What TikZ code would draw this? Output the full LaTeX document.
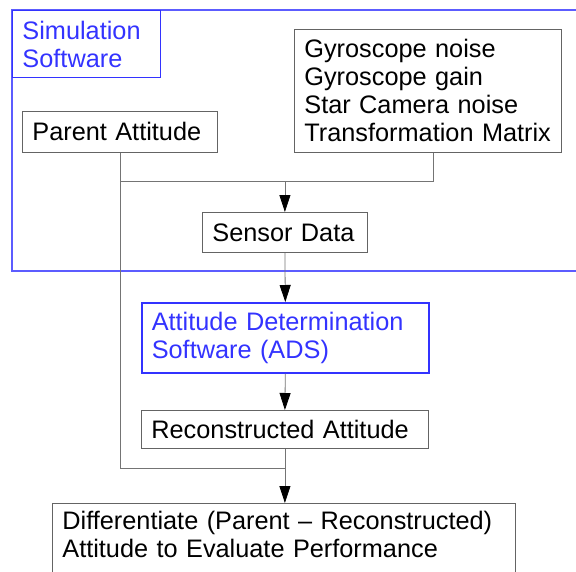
\documentclass[tikz,border=0pt]{standalone}
\usepackage{fontspec}
\setmainfont{Liberation Sans}
\usetikzlibrary{arrows.meta}
\definecolor{simblue}{RGB}{51,51,255}
\definecolor{framegray}{RGB}{100,100,100}
\tikzset{
  blk/.style={draw=framegray, line width=0.8pt, anchor=north west, align=left,
    inner xsep=10pt, inner ysep=0pt, font=\fontsize{25.3}{28}\selectfont},
  bluebox/.style={blk, draw=simblue, text=simblue},
  conn/.style={draw=framegray!90, line width=0.8pt},
  arr/.style={conn, -{Triangle[width=11pt,length=17pt,color=black]}}
}

\begin{document}
\begin{tikzpicture}[x=1pt, y=-1pt]
		%%%%% START %%%%%
		\useasboundingbox (0, 0) rectangle (576, 571);
		
		% simulation software frame
		\begin{scope}
		\clip (0, 0) rectangle (576, 571);
		\draw[draw=simblue!80, line width=1.2pt] (12, 10) rectangle (600, 271);
		\end{scope}
		\node[bluebox, line width=1pt, text width=128pt, minimum height=67pt] (simlabel) at (12, 10) {Simulation\\Software};
		
		\node[blk, text width=175pt, minimum height=41pt] (parent) at (22, 111) {Parent Attitude};
		\node[blk, text width=247pt, minimum height=123pt] (params) at (294, 29) {Gyroscope noise\\Gyroscope gain\\Star Camera noise\\Transformation Matrix};
		\node[blk, text width=145pt, minimum height=40pt] (sensor) at (202, 212) {Sensor Data};
		
		\node[bluebox, line width=1.6pt, text width=267pt, minimum height=70pt] (ads) at (141, 302) {Attitude Determination\\Software (ADS)};
		\node[blk, text width=267pt, minimum height=38pt] (recon) at (141, 410) {Reconstructed Attitude};
		\node[blk, draw=none, text width=443pt, inner ysep=8pt] (diff) at (52, 503) {Differentiate (Parent -- Reconstructed)\\Attitude to Evaluate Performance};
		\begin{scope}
		\clip (0, 0) rectangle (576, 571);
		\draw[framegray, line width=0.8pt] (diff.north west) rectangle ([yshift=-20pt]diff.south east);
		\end{scope}
		
		% connectors
		\coordinate (topjoin) at (sensor.north |- 0, 181);
		\coordinate (lowjoin) at (recon.south |- 0, 468);
		\draw[conn] ([xshift=5pt]params.south) |- (parent.south |- topjoin);
		\draw[conn] (parent.south) |- (lowjoin);
		\draw[arr] (topjoin) -- (sensor.north);
		\draw[arr] (sensor.south) -- (ads.north);
		\draw[arr] (ads.south) -- (recon.north);
		\draw[conn] (recon.south) -- (lowjoin);
		\draw[arr] (lowjoin) -- (lowjoin |- diff.north);
		
		%%%%% END %%%%%
	\end{tikzpicture}
\end{document}
